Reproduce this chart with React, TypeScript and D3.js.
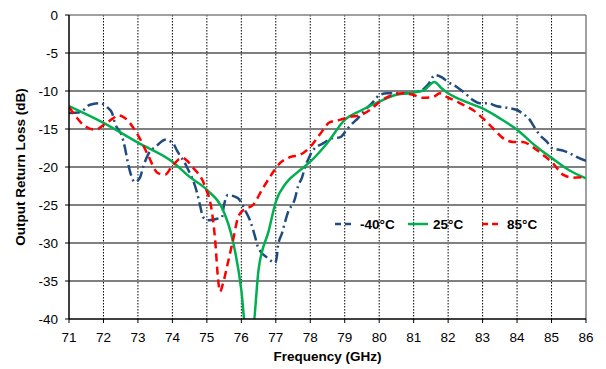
import React from 'react';
import * as d3 from 'd3';

// frequency (GHz) / return loss (dB)
const freqM40 = [71.0, 71.32, 71.61, 71.9, 72.1, 72.25, 72.33, 72.54, 72.62, 72.68, 72.77, 72.91, 73.06, 73.15, 73.29, 73.55, 73.79, 74.02, 74.13, 74.42, 74.71, 74.8, 74.89, 75.05, 75.3, 75.44, 75.47, 75.61, 75.9, 76.11, 76.25, 76.4, 76.48, 76.77, 76.98, 77.03, 77.06, 77.18, 77.35, 77.56, 77.64, 77.76, 77.85, 77.93, 78.08, 78.37, 78.66, 78.86, 79.09, 79.24, 79.38, 79.59, 79.79, 80.02, 80.23, 80.4, 80.81, 81.1, 81.27, 81.41, 81.62, 81.82, 81.99, 82.26, 82.49, 82.72, 82.92, 83.13, 83.42, 83.71, 84.0, 84.14, 84.37, 84.52, 84.66, 84.87, 85.01, 85.3, 85.53, 85.74, 86.0];
const lossM40 = [-12.9, -12.8, -11.8, -11.6, -12.1, -12.9, -14.2, -16, -17.4, -18.8, -20.6, -22, -21.4, -20, -18.4, -17.2, -16.4, -16.9, -17.8, -20, -23.3, -25, -26.6, -27, -26.8, -26.6, -25.7, -23.7, -24.1, -25.7, -27, -29.2, -30.5, -32, -32.6, -31.8, -30.5, -28.7, -26, -24.1, -22.6, -21.4, -20, -19.1, -17.8, -16.9, -16.2, -16.1, -14.9, -14.2, -13.6, -12.5, -11.6, -10.5, -10.3, -10.3, -10.3, -10.1, -9.8, -9.2, -7.9, -8.2, -8.8, -9.5, -10.3, -11.2, -11.6, -11.6, -12, -12.2, -12.5, -12.9, -13.8, -14.9, -15.8, -16.7, -17.5, -17.8, -18.2, -18.7, -19.2];

const freq25 = [71.0, 72.0, 73.0, 74.0, 74.5, 75.0, 75.5, 75.7, 76.0, 76.12, 76.33, 76.5, 76.8, 77.0, 77.3, 77.6, 78.0, 78.5, 79.0, 79.5, 80.0, 80.5, 81.0, 81.3, 81.6, 81.8, 82.0, 82.5, 83.0, 83.5, 84.0, 84.5, 85.0, 85.5, 86.0];
const loss25 = [-12.0, -14.2, -16.8, -19.3, -21.3, -23.0, -26.0, -28.7, -36.2, -41, -41, -33.5, -28.3, -24.6, -22.1, -20.8, -19.3, -16.8, -13.8, -12.5, -11.4, -10.5, -10.2, -9.9, -8.8, -9.6, -10.3, -11.4, -12.3, -13.6, -15.1, -17.1, -18.8, -20.4, -21.5];

const freq85 = [71.0, 71.49, 71.78, 71.99, 72.28, 72.42, 72.57, 73.0, 73.29, 73.58, 73.79, 73.99, 74.28, 74.6, 74.95, 75.15, 75.24, 75.32, 75.38, 75.47, 75.61, 75.76, 75.9, 76.05, 76.34, 76.6, 76.83, 77.12, 77.41, 77.7, 77.99, 78.28, 78.57, 78.86, 79.15, 79.44, 79.73, 80.02, 80.4, 80.69, 80.98, 81.27, 81.56, 81.76, 81.97, 82.26, 82.34, 82.72, 83.01, 83.3, 83.59, 83.88, 84.17, 84.46, 84.75, 85.04, 85.33, 85.62, 86.0];
const loss85 = [-12.1, -14.7, -15.1, -14.5, -13.6, -13.2, -13.4, -15.8, -18.4, -20.8, -21.0, -19.9, -18.8, -20.1, -22.6, -26, -29.6, -34.5, -36.4, -35.3, -32.6, -29.6, -26.7, -25.7, -25, -23, -21.3, -19.5, -18.7, -18.4, -17.4, -15.7, -14.1, -13.8, -13.4, -13.2, -12.5, -11.4, -10.5, -10.3, -10.5, -10.9, -10.8, -10.3, -10.8, -11.4, -11.6, -12.5, -13.6, -14.9, -16.2, -16.7, -16.7, -17.4, -18.4, -19.5, -21, -21.4, -21.3];

const xTicks = d3.range(71, 87);
const yTicks = [0, -5, -10, -15, -20, -25, -30, -35, -40];
const legendLabels = ['-40°C', '25°C', '85°C'];

const W = 606;
const H = 369;
const left = 69;
const right = 586;
const top = 15;
const bottom = 319;

export default function App() {
  const x = d3.scaleLinear().domain([71, 86]).range([left, right]);
  const y = d3.scaleLinear().domain([-40, 0]).range([bottom, top]);

  const line = d3.line<[number, number]>()
    .x(d => x(d[0]))
    .y(d => y(d[1]))
    .curve(d3.curveMonotoneX);

  const zip = (f: number[], v: number[]) => f.map((d, i) => [d, v[i]] as [number, number]);

  const series = [
    { label: legendLabels[0], pts: zip(freqM40, lossM40), color: '#1F4B7F', dash: '11,4,2,4' },
    { label: legendLabels[1], pts: zip(freq25, loss25), color: '#00B050', dash: null },
    { label: legendLabels[2], pts: zip(freq85, loss85), color: '#FF0000', dash: '8,5' },
  ];

  const font = 'Liberation Sans, Arial, sans-serif';
  const legendX = [335, 408, 482];

  return (
    <svg width={W} height={H} style={{ position: 'absolute', left: 0, top: 0, background: '#fff' }}
      fontFamily={font}>
      <defs>
        <clipPath id="plot">
          <rect x={left} y={top} width={right - left} height={bottom - top} />
        </clipPath>
      </defs>
      <rect width={W} height={H} fill="#fff" />

      {/* vertical dotted grid */}
      {xTicks.slice(1, -1).map(t => (
        <line key={'v' + t} x1={x(t)} x2={x(t)} y1={top} y2={bottom}
          stroke="#000" strokeWidth={1} strokeDasharray="1.5,1.5" />
      ))}
      {/* horizontal grid */}
      {yTicks.slice(1, -1).map(t => (
        <line key={'h' + t} x1={left} x2={right} y1={y(t)} y2={y(t)}
          stroke={t === -5 ? '#000' : '#808080'} strokeWidth={t === -5 ? 1.2 : 2} />
      ))}
      {/* border */}
      <line x1={left} x2={right} y1={top} y2={top} stroke="#808080" strokeWidth={1.5} />
      <line x1={right} x2={right} y1={top} y2={bottom} stroke="#808080" strokeWidth={1.5} />

      {/* curves */}
      <g clipPath="url(#plot)">
        {series.map(s => (
          <path key={s.label} d={line(s.pts) || ''} fill="none" stroke={s.color}
            strokeWidth={2.5} strokeDasharray={s.dash || undefined} strokeLinejoin="round" />
        ))}
      </g>

      {/* axes */}
      <line x1={left} x2={left} y1={top} y2={bottom} stroke="#000" strokeWidth={1.5} />
      <line x1={left} x2={right} y1={bottom} y2={bottom} stroke="#000" strokeWidth={1.5} />
      {yTicks.map(t => (
        <g key={'yt' + t}>
          <line x1={left - 4} x2={left} y1={y(t)} y2={y(t)} stroke="#000" />
          <text x={left - 11} y={y(t)} dy="0.35em" textAnchor="end" fontSize={13.5} fill="#000">{t}</text>
        </g>
      ))}
      {xTicks.map(t => (
        <g key={'xt' + t}>
          <line x1={x(t)} x2={x(t)} y1={bottom} y2={bottom + 4} stroke="#000" />
          <text x={x(t)} y={bottom + 23} textAnchor="middle" fontSize={13.5} fill="#000">{t}</text>
        </g>
      ))}
      <text x={(left + right) / 2} y={361} textAnchor="middle" fontSize={13.5} fontWeight="bold">Frequency (GHz)</text>
      <text transform={`translate(25,${(top + bottom) / 2}) rotate(-90)`} textAnchor="middle"
        fontSize={13.5} fontWeight="bold">Output Return Loss (dB)</text>

      {/* legend */}
      {series.map((s, i) => (
        <g key={'lg' + i} transform={`translate(${legendX[i]},224)`}>
          <line x1={0} x2={20} y1={0} y2={0} stroke={s.color} strokeWidth={2.5}
            strokeDasharray={s.dash ? '6,4' : undefined} />
          <text x={25} y={0} dy="0.35em" fontSize={13.5} fontWeight="bold">{s.label}</text>
        </g>
      ))}
    </svg>
  );
}
